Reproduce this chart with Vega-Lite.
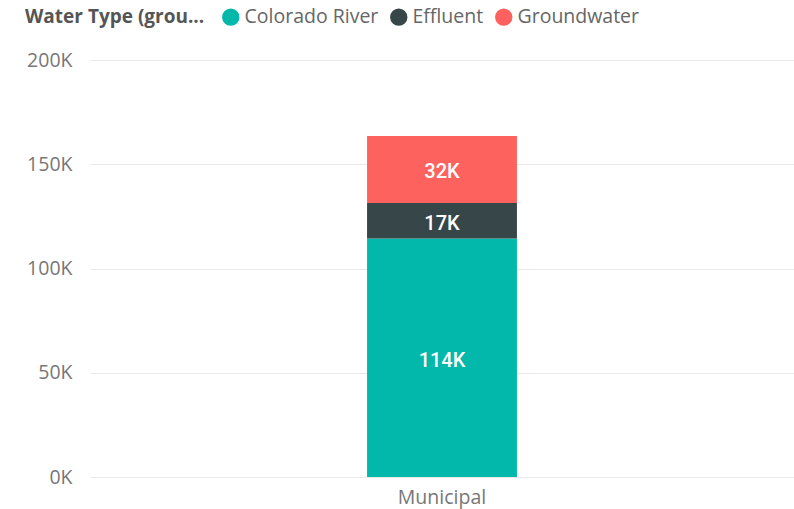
{
  "$schema": "https://vega.github.io/schema/vega-lite/v6.json",
  "autosize": "none",
  "width": 704,
  "height": 417,
  "padding": {"left": 90, "top": 60, "right": 0, "bottom": 32},
  "background": "white",
  "config": {"view": {"stroke": null}, "font": "Open Sans"},
  "data": {
    "values": [
      {"category": "Municipal", "type": "Colorado River", "value": 114400, "order": 1},
      {"category": "Municipal", "type": "Effluent", "value": 17000, "order": 2},
      {"category": "Municipal", "type": "Groundwater", "value": 32200, "order": 3}
    ]
  },
  "transform": [
    {"stack": "value", "groupby": ["category"], "sort": [{"field": "order"}], "as": ["v0", "v1"]},
    {"calculate": "(datum.v0 + datum.v1) / 2", "as": "mid"},
    {"calculate": "format(datum.value / 1000, '.0f') + 'K'", "as": "label"}
  ],
  "encoding": {
    "x": {
      "field": "category", "type": "nominal",
      "scale": {"paddingInner": 0.459, "paddingOuter": 1},
      "axis": {"title": null, "labelAngle": 0, "domain": false, "ticks": false, "labelFontSize": 19.5, "labelColor": "#777777", "labelPadding": 11, "labelFont": "Open Sans"}
    }
  },
  "layer": [
    {
      "mark": {"type": "bar"},
      "encoding": {
        "y": {
          "field": "v1", "type": "quantitative",
          "scale": {"domain": [0, 200000], "nice": false},
          "axis": {"title": null, "values": [0, 50000, 100000, 150000, 200000], "labelExpr": "datum.value / 1000 + 'K'", "domain": false, "ticks": false, "gridColor": "#e9e9e9", "gridWidth": 1, "labelFontSize": 19.5, "labelColor": "#777777", "labelPadding": 18, "labelFont": "Open Sans"}
        },
        "y2": {"field": "v0"},
        "color": {
          "field": "type", "type": "nominal",
          "scale": {"domain": ["Colorado River", "Effluent", "Groundwater"], "range": ["#01B8AA", "#374649", "#FD625E"]},
          "legend": {
            "title": "Water Type (grou...",
            "orient": "none",
            "legendX": -65,
            "legendY": -53,
            "direction": "horizontal",
            "titleOrient": "left",
            "titleFontSize": 19,
            "titleFontWeight": "bold",
            "titleColor": "#555555",
            "titleFont": "Open Sans",
            "titlePadding": 16,
            "symbolType": "circle",
            "symbolSize": 300,
            "symbolStrokeWidth": 0,
            "symbolOpacity": 1,
            "labelFontSize": 19.5,
            "labelColor": "#666666",
            "labelFont": "Open Sans",
            "labelOffset": 4,
            "columnPadding": 10
          }
        },
        "order": {"field": "order"}
      }
    },
    {
      "mark": {"type": "text", "color": "white", "fontSize": 20, "fontWeight": 500, "font": "Roboto", "baseline": "middle", "dy": 3},
      "encoding": {
        "y": {"field": "mid", "type": "quantitative"},
        "text": {"field": "label"}
      }
    }
  ]
}
